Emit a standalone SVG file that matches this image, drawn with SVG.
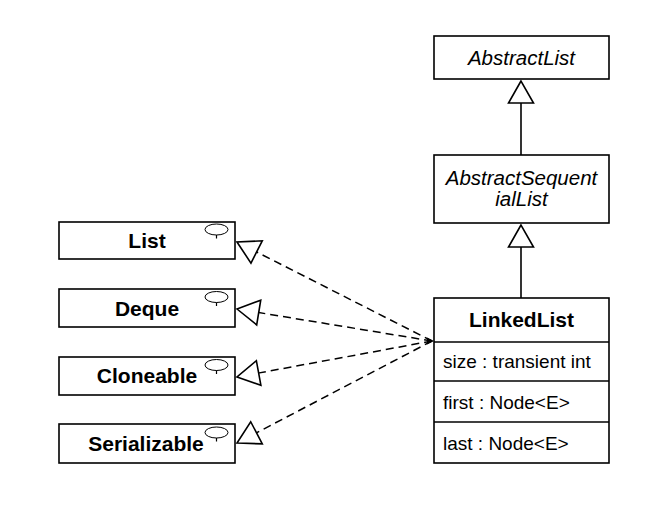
<svg xmlns="http://www.w3.org/2000/svg" width="660" height="509" viewBox="0 0 660 509">
<style>
.box{fill:#fff;stroke:#000;stroke-width:1.6}
.t{font-family:"Liberation Sans",Arial,sans-serif;fill:#000}
.b{font-weight:bold;font-size:21px;text-anchor:middle}
.i{font-style:italic;font-size:20.5px;text-anchor:middle}
.a{font-size:19px}
.dash{fill:none;stroke:#000;stroke-width:1.5;stroke-dasharray:8 5}
.solid{fill:none;stroke:#000;stroke-width:1.6}
.ic{fill:#fff;stroke:#000;stroke-width:1}
</style>
<defs>
<marker id="real" markerUnits="userSpaceOnUse" viewBox="-25 -15 28 30" refX="0" refY="0" markerWidth="28" markerHeight="30" orient="auto">
<path d="M0,0 L-22,-12.5 L-22,12.5 Z" fill="#fff" stroke="#000" stroke-width="1.6"/>
</marker>
<g id="icon"><ellipse cx="0" cy="0" rx="11.5" ry="5.5" class="ic"/><line x1="0" y1="5.5" x2="0" y2="9" stroke="#000" stroke-width="1.2"/></g>
</defs>
<rect width="660" height="509" fill="#fff"/>
<g id="connectors">
<path class="solid" d="M521,103 V155"/>
<path d="M521,81 L508.5,103 L533.5,103 Z" fill="#fff" stroke="#000" stroke-width="1.6"/>
<path class="solid" d="M521,247 V298"/>
<path d="M521,225 L508.5,247 L533.5,247 Z" fill="#fff" stroke="#000" stroke-width="1.6"/>
<line class="dash" x1="432" y1="341" x2="237" y2="242" marker-end="url(#real)"/>
<line class="dash" x1="432" y1="341" x2="237" y2="309" marker-end="url(#real)"/>
<line class="dash" x1="432" y1="341" x2="237" y2="377" marker-end="url(#real)"/>
<line class="dash" x1="432" y1="341" x2="237" y2="443" marker-end="url(#real)"/>
<path d="M434,341 L427,337.5 L427,344.5 Z" fill="#000"/>
</g>
<g id="AbstractList">
<rect class="box" x="434" y="36" width="175" height="43"/>
<text class="t i" x="521.5" y="65">AbstractList</text>
</g>
<g id="AbstractSequentialList">
<rect class="box" x="434" y="155" width="175" height="68"/>
<text class="t i" x="521.5" y="185">AbstractSequent</text>
<text class="t i" x="521.5" y="206">ialList</text>
</g>
<g id="LinkedList">
<rect class="box" x="434" y="298" width="175" height="165"/>
<line class="solid" x1="434" y1="342" x2="609" y2="342"/>
<line class="solid" x1="434" y1="381" x2="609" y2="381"/>
<line class="solid" x1="434" y1="422" x2="609" y2="422"/>
<text class="t b" x="521.5" y="327">LinkedList</text>
<text class="t a" x="443" y="368">size : transient int</text>
<text class="t a" x="443" y="409">first : Node&lt;E&gt;</text>
<text class="t a" x="443" y="450">last : Node&lt;E&gt;</text>
</g>
<g id="List">
<rect class="box" x="59" y="222" width="176" height="37"/>
<use href="#icon" x="216.5" y="229.5"/>
<text class="t b" x="147" y="248">List</text>
</g>
<g id="Deque">
<rect class="box" x="59" y="289" width="176" height="38"/>
<use href="#icon" x="216.5" y="297"/>
<text class="t b" x="147" y="316">Deque</text>
</g>
<g id="Cloneable">
<rect class="box" x="59" y="357" width="176" height="38"/>
<use href="#icon" x="216.5" y="365"/>
<text class="t b" x="147" y="383">Cloneable</text>
</g>
<g id="Serializable">
<rect class="box" x="59" y="424" width="176" height="39"/>
<use href="#icon" x="216.5" y="432.5"/>
<text class="t b" x="146" y="451">Serializable</text>
</g>
</svg>
